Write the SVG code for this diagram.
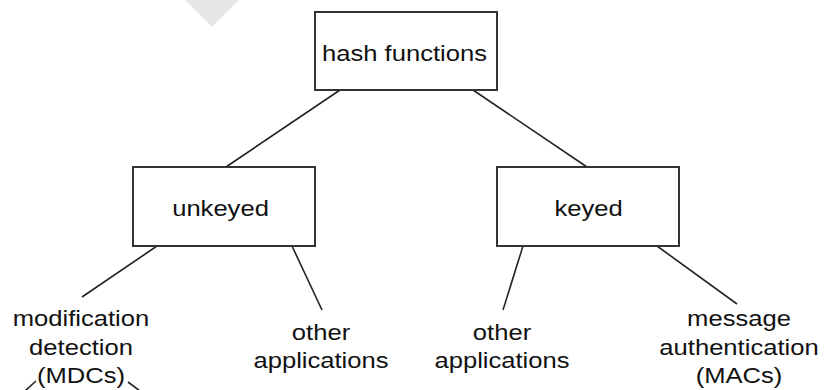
<svg xmlns="http://www.w3.org/2000/svg" width="826" height="390" viewBox="0 0 826 390">
<style>
.box{fill:#fff;stroke:#333;stroke-width:2}
.ln{stroke:#222;stroke-width:1.6;fill:none}
text{font-family:"Liberation Sans",Arial,sans-serif;font-size:21.5px;fill:#111;text-anchor:middle}
</style>
<rect width="826" height="390" fill="#fff"/>
<polygon points="185,0 212,27 239,0" fill="#e6e6e6"/>
<g id="connectors">
<line class="ln" x1="340" y1="90" x2="226" y2="167"/>
<line class="ln" x1="473" y1="90" x2="587" y2="167"/>
<line class="ln" x1="157" y1="246" x2="82" y2="297"/>
<line class="ln" x1="292" y1="246" x2="322" y2="310"/>
<line class="ln" x1="523" y1="246" x2="503" y2="310"/>
<line class="ln" x1="657" y1="246" x2="737" y2="304"/>
<line class="ln" x1="36" y1="381" x2="25" y2="391"/>
<line class="ln" x1="128" y1="382" x2="140" y2="391"/>
</g>
<g id="hash">
<rect class="box" x="315" y="12" width="182" height="78"/>
<text transform="translate(404.5,60.5) scale(1.19,1)">hash functions</text>
</g>
<g id="unkeyed">
<rect class="box" x="133" y="167" width="182" height="79"/>
<text transform="translate(220.5,216) scale(1.19,1)">unkeyed</text>
</g>
<g id="keyed">
<rect class="box" x="497" y="167" width="182" height="79"/>
<text transform="translate(588.5,215.5) scale(1.19,1)">keyed</text>
</g>
<g id="mdc">
<text transform="translate(81,326) scale(1.19,1)">modification</text>
<text transform="translate(81,355) scale(1.19,1)">detection</text>
<text transform="translate(81,383) scale(1.19,1)">(MDCs)</text>
</g>
<g id="other1">
<text transform="translate(321,339.5) scale(1.19,1)">other</text>
<text transform="translate(321,367.5) scale(1.19,1)">applications</text>
</g>
<g id="other2">
<text transform="translate(502,339.5) scale(1.19,1)">other</text>
<text transform="translate(502,367.5) scale(1.19,1)">applications</text>
</g>
<g id="mac">
<text transform="translate(739,326) scale(1.19,1)">message</text>
<text transform="translate(739,355) scale(1.19,1)">authentication</text>
<text transform="translate(739,383) scale(1.19,1)">(MACs)</text>
</g>
</svg>
